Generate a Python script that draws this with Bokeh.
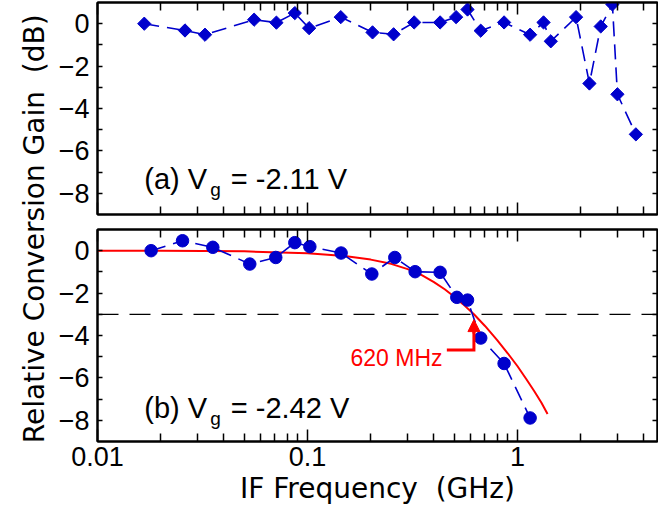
import math
from bokeh.plotting import figure
from bokeh.models import (FixedTicker, LogAxis, LinearAxis, Span, Label, Arrow,
                          NormalHead, Range1d, CustomJSTickFormatter)
from bokeh.layouts import row, column
from bokeh.embed import file_html
from bokeh.resources import INLINE

# ---------------- data ----------------
# panel (a): Vg = -2.11 V, diamonds
freq_a = [0.0167, 0.0261, 0.0325, 0.0557, 0.0711, 0.0870, 0.1018, 0.144, 0.204,
          0.257, 0.322, 0.428, 0.510, 0.578, 0.668, 0.863, 1.148, 1.33, 1.44,
          1.90, 2.20, 2.49, 2.83, 2.99, 3.66]
gain_a = [0.00, -0.32, -0.52, 0.19, 0.05, 0.50, -0.21, 0.31, -0.41,
          -0.50, 0.06, 0.06, 0.31, 0.67, -0.33, 0.06, -0.52, 0.06, -0.83,
          0.31, -2.82, -0.13, 0.91, -3.33, -5.22]
# panel (b): Vg = -2.42 V, circles
freq_b = [0.0180, 0.0254, 0.0354, 0.0531, 0.0706, 0.0870, 0.1026, 0.1445, 0.2024,
          0.2604, 0.3254, 0.428, 0.514, 0.578, 0.668, 0.863, 1.148]
gain_b = [0.00, 0.47, 0.16, -0.63, -0.32, 0.38, 0.19, -0.11, -1.10,
          -0.32, -0.99, -1.02, -2.20, -2.33, -4.12, -5.32, -7.89]
# red roll-off curve (b)
fit_freq = [0.01, 0.02, 0.05, 0.1, 0.15, 0.2, 0.25, 0.3, 0.35, 0.4, 0.45, 0.5,
            0.55, 0.62, 0.7, 0.8, 0.9, 1.0, 1.1, 1.2, 1.3, 1.39]
fit_gain = [0.0, 0.0, -0.03, -0.12, -0.25, -0.42, -0.62, -0.87, -1.15, -1.48, -1.82, -2.17,
            -2.52, -3.0, -3.55, -4.22, -4.85, -5.45, -6.05, -6.62, -7.17, -7.7]
cutoff_ghz = 0.62
cutoff_text = "620 MHz"
threshold_db = -3

panel_tags = ["a", "b"]
gate_voltages = ["-2.11", "-2.42"]

x_major = [0.01, 0.1, 1]
x_tick_labels = ["0.01", "0.1", "1"]
x_minor = [0.02, 0.03, 0.04, 0.05, 0.06, 0.07, 0.08, 0.09,
           0.2, 0.3, 0.4, 0.5, 0.6, 0.7, 0.8, 0.9, 2, 3, 4]
y_major = [-8, -6, -4, -2, 0]
y_minor = [-7, -5, -3, -1]

x_title = "IF Frequency \u00a0(GHz)"
y_title = "Relative Conversion Gain \u00a0(dB)"

# ---------------- style / layout ----------------
BLUE = "#0000cc"
RED = "#ff0000"
FONT = "Liberation Sans"
TITLE_FONT = "DejaVu Sans"

W_LAB = 52
W_PAN = 606
B_LEFT = 45
B_RIGHT = 1
FRAME_H = 212
TOP_H = 2 + FRAME_H + 7
BOT_H = 512 - TOP_H
X_MIN, X_MAX = 0.01, 4.64
Y_MIN, Y_MAX = -9, 1

hidden_fmt = CustomJSTickFormatter(code="return ''")
x_fmt = CustomJSTickFormatter(args=dict(values=x_major, labels=x_tick_labels),
                              code="const i = values.indexOf(tick); return i >= 0 ? labels[i] : '';")


def style_axis(ax, is_x, show_labels):
    if is_x:
        ax.ticker = FixedTicker(ticks=x_major, minor_ticks=x_minor)
        ax.major_tick_in, ax.minor_tick_in = 12, 8
    else:
        ax.ticker = FixedTicker(ticks=y_major, minor_ticks=y_minor)
        ax.major_tick_in, ax.minor_tick_in = 5, 5
    ax.major_tick_out = 0
    ax.minor_tick_out = 0
    ax.axis_line_color = "black"
    ax.axis_line_width = 2
    ax.major_tick_line_color = "black"
    ax.minor_tick_line_color = "black"
    ax.major_tick_line_width = 1.5
    ax.minor_tick_line_width = 1.5
    if show_labels:
        ax.major_label_text_font = FONT
        ax.major_label_text_font_size = "27px"
        ax.major_label_text_color = "black"
        if is_x:
            ax.formatter = x_fmt
            ax.major_label_standoff = 5
        else:
            ax.major_label_standoff = 8
    else:
        ax.formatter = hidden_fmt
        ax.major_label_text_font_size = "1px"
        ax.major_label_text_color = None
        ax.major_label_standoff = 0


def make_panel(height, mb_top, mb_bottom, bottom_labels):
    p = figure(width=W_PAN, height=height, x_axis_type="log",
               x_range=Range1d(X_MIN, X_MAX), y_range=Range1d(Y_MIN, Y_MAX),
               output_backend="svg", toolbar_location=None,
               min_border_left=B_LEFT, min_border_right=B_RIGHT,
               min_border_top=mb_top, min_border_bottom=mb_bottom)
    p.grid.visible = False
    p.outline_line_color = "black"
    p.outline_line_width = 2
    p.background_fill_color = "white"
    p.border_fill_color = "white"
    p.add_layout(LogAxis(), "above")
    p.add_layout(LinearAxis(), "right")
    style_axis(p.below[0], True, bottom_labels)
    style_axis(p.above[0], True, False)
    style_axis(p.left[0], False, True)
    style_axis(p.right[0], False, False)
    return p


def vg_label(p, tag, volts, y):
    p.add_layout(Label(x=0.0167, y=y, text=f"({tag}) V", text_font=FONT,
                       text_font_size="29px", text_baseline="alphabetic", text_color="black"))
    p.add_layout(Label(x=0.0344, y=y - 0.5, text="g", text_font=FONT,
                       text_font_size="19px", text_baseline="alphabetic", text_color="black"))
    p.add_layout(Label(x=0.0431, y=y, text=f"= {volts} V", text_font=FONT,
                       text_font_size="29px", text_baseline="alphabetic", text_color="black"))


# ---- top panel (a)
pa = make_panel(TOP_H, 2, 7, False)
pa.line(freq_a, gain_a, line_color=BLUE, line_width=1.6, line_dash="15 8")
pa.scatter(freq_a, gain_a, marker="square", angle=math.pi / 4, size=9.4,
           fill_color=BLUE, line_color=BLUE)
vg_label(pa, panel_tags[0], gate_voltages[0], -7.31)

# ---- bottom panel (b)
pb = make_panel(BOT_H, 8, BOT_H - 8 - FRAME_H, True)
pb.below[0].axis_label = x_title
pb.below[0].axis_label_text_font = TITLE_FONT
pb.below[0].axis_label_text_font_size = "28px"
pb.below[0].axis_label_text_font_style = "normal"
pb.below[0].axis_label_text_color = "black"
pb.below[0].axis_label_standoff = 3

pb.add_layout(Span(location=threshold_db, dimension="width", line_color="black",
                   line_width=1.3, line_dash="21 11"))
pb.line(fit_freq, fit_gain, line_color=RED, line_width=2)
pb.line(freq_b, gain_b, line_color=BLUE, line_width=1.6, line_dash="15 8")
pb.scatter(freq_b, gain_b, marker="circle", size=12.5, fill_color=BLUE, line_color=BLUE)
vg_label(pb, panel_tags[1], gate_voltages[1], -7.42)

# annotation: 620 MHz arrow
ARROW_Y = -4.68
TEXT_END_X = 0.4395
LINE_START_X = 0.4607
pb.line([LINE_START_X, cutoff_ghz, cutoff_ghz], [ARROW_Y, ARROW_Y, -3.8],
        line_color=RED, line_width=3, line_join="miter")
pb.add_layout(Arrow(end=NormalHead(size=12, fill_color=RED, line_color=RED, line_width=1),
                    x_start=cutoff_ghz, y_start=-3.9, x_end=cutoff_ghz, y_end=-3.25,
                    line_color=RED, line_width=3))
pb.add_layout(Label(x=TEXT_END_X, y=-5.06, text=cutoff_text, text_font=FONT,
                    text_font_size="23px", text_color=RED, text_align="right",
                    text_baseline="alphabetic"))

# ---- y title strip
H_TOTAL = TOP_H + BOT_H
pl = figure(width=W_LAB, height=H_TOTAL, x_range=Range1d(0, W_LAB), y_range=Range1d(0, H_TOTAL),
            output_backend="svg", toolbar_location=None, min_border=0,
            x_axis_location=None, y_axis_location=None)
pl.grid.visible = False
pl.outline_line_color = None
pl.add_layout(Label(x=33.5, y=H_TOTAL - 228.3, text=y_title, angle=math.pi / 2,
                    text_font=TITLE_FONT, text_font_size="28px", text_align="center",
                    text_baseline="alphabetic", text_color="black"))

layout = row(pl, column(pa, pb))
open("out.html", "w").write(file_html(layout, INLINE))
